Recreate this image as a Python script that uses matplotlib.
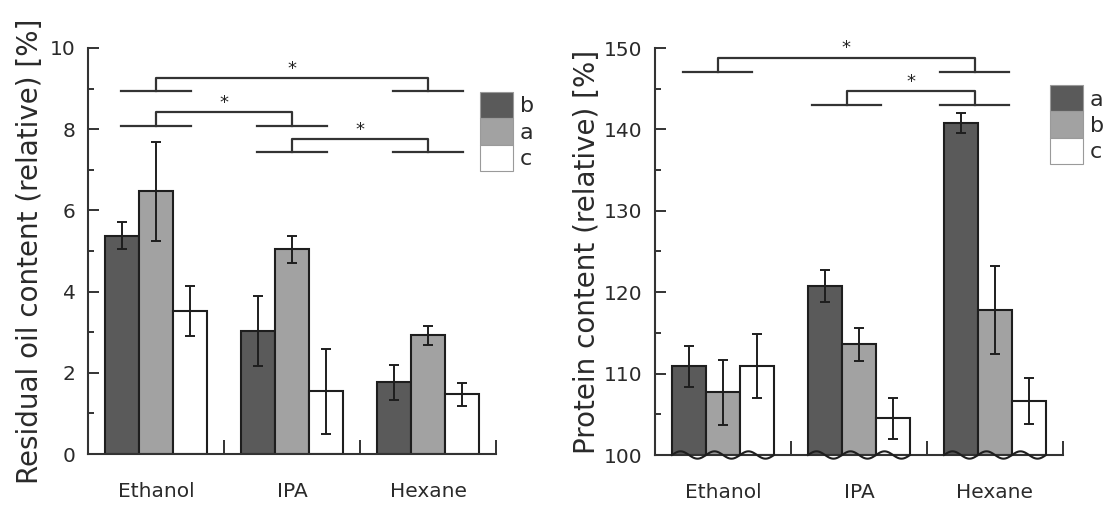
import matplotlib
matplotlib.use('Agg')
import matplotlib.pyplot as plt
import matplotlib.patches as mpatches
import numpy as np

solvents = ['Ethanol', 'IPA', 'Hexane']
bar_colors = ['#5a5a5a', '#a2a2a2', '#ffffff']

# residual oil content, three series (dark / grey / white)
oil_dark = [5.38, 3.03, 1.77]
oil_dark_err = [0.33, 0.86, 0.43]
oil_grey = [6.47, 5.04, 2.92]
oil_grey_err = [1.22, 0.34, 0.23]
oil_white = [3.52, 1.54, 1.47]
oil_white_err = [0.62, 1.04, 0.28]
oil_legend = ['b', 'a', 'c']

# protein content
prot_dark = [110.9, 120.8, 140.8]
prot_dark_err = [2.5, 1.95, 1.25]
prot_grey = [107.7, 113.6, 117.8]
prot_grey_err = [4.0, 2.0, 5.45]
prot_white = [110.9, 104.5, 106.6]
prot_white_err = [3.95, 2.5, 2.8]
prot_legend = ['a', 'b', 'c']

# significance brackets: group positions, lower and upper level
oil_sig_x = [(0, 2), (0, 1), (1, 2)]
oil_sig_low = [8.93, 8.09, 7.43]
oil_sig_high = [9.26, 8.43, 7.76]
prot_sig_x = [(-0.04, 1.85), (0.91, 1.85)]
prot_sig_low = [147.1, 143.05]
prot_sig_high = [148.8, 144.7]

EDGE = '#1e1e1e'
AX = '#333333'
width = 0.25


def draw_panel(ax, vals, errs, ylim, yticks, minor, ylabel, sig_x, sig_low, sig_high,
               star_off, wave=False):
    x = np.arange(len(solvents))
    base = ylim[0]
    for i, (v, e, c) in enumerate(zip(vals, errs, bar_colors)):
        pos = x + (i - 1) * width
        ax.bar(pos, np.array(v) - base, width, bottom=base, color=c, edgecolor=EDGE,
               linewidth=1.5, zorder=2)
        ax.errorbar(pos, v, yerr=e, fmt='none', ecolor=EDGE, elinewidth=1.4,
                    capsize=3.3, capthick=1.4, zorder=3)
        if wave:
            t = np.linspace(0, 1, 40)
            amp = (ylim[1] - ylim[0]) * 0.009
            for p in pos:
                ax.plot(p - width / 2 + t * width, base + amp * np.sin(2 * np.pi * t),
                        color=EDGE, lw=1.5, clip_on=False, zorder=4)

    hw = 0.255
    for (xa, xb), lo, hi in zip(sig_x, sig_low, sig_high):
        ax.plot([xa - hw, xa + hw], [lo, lo], color=AX, lw=1.6)
        ax.plot([xb - hw, xb + hw], [lo, lo], color=AX, lw=1.6)
        ax.plot([xa, xa, xb, xb], [lo, hi, hi, lo], color=AX, lw=1.6)
        ax.text((xa + xb) / 2, hi + star_off, '*', ha='center', va='center', fontsize=13,
                color='#222222')

    ax.set_xlim(-0.5, 2.5)
    ax.set_ylim(*ylim)
    ax.set_yticks(yticks)
    ax.set_yticks(minor, minor=True)
    ax.set_xticks([-0.5, 0.5, 1.5, 2.5])
    ax.set_xticklabels([])
    ax.set_xticks(x, minor=True)
    ax.set_xticklabels(solvents, minor=True)
    ax.tick_params(axis='y', which='major', direction='in', length=8, width=1.4, color=AX,
                   labelsize=14.5, pad=9, labelcolor='#2a2a2a')
    ax.tick_params(axis='y', which='minor', direction='in', length=4.5, width=1.4, color=AX)
    ax.tick_params(axis='x', which='major', direction='in', length=10, width=1.4, color=AX)
    ax.tick_params(axis='x', which='minor', length=0, labelsize=14.5, pad=20,
                   labelcolor='#2a2a2a')
    for s in ['top', 'right']:
        ax.spines[s].set_visible(False)
    for s in ['left', 'bottom']:
        ax.spines[s].set_color(AX)
        ax.spines[s].set_linewidth(1.5)
    ax.set_ylabel(ylabel, fontsize=20, color='#2a2a2a')

    handles = [mpatches.Patch(facecolor=c, edgecolor='#9a9a9a', linewidth=0.8)
               for c in bar_colors]
    return handles


fig = plt.figure(figsize=(11.06, 5.08), dpi=100)
ax1 = fig.add_axes([88 / 1106, 54 / 508, 408 / 1106, 406 / 508])
ax2 = fig.add_axes([655 / 1106, 53 / 508, 408 / 1106, 407 / 508])

h1 = draw_panel(ax1, [oil_dark, oil_grey, oil_white],
                [oil_dark_err, oil_grey_err, oil_white_err],
                (0, 10), [0, 2, 4, 6, 8, 10], [1, 3, 5, 7, 9],
                'Residual oil content (relative) [%]',
                oil_sig_x, oil_sig_low, oil_sig_high, 0.22)
h2 = draw_panel(ax2, [prot_dark, prot_grey, prot_white],
                [prot_dark_err, prot_grey_err, prot_white_err],
                (100, 150), [100, 110, 120, 130, 140, 150], [105, 115, 125, 135, 145],
                'Protein content (relative) [%]',
                prot_sig_x, prot_sig_low, prot_sig_high, 1.15, wave=True)

ax1.yaxis.set_label_coords(-0.108, 0.5)
ax2.yaxis.set_label_coords(-0.132, 0.5)

ax1.legend(h1, oil_legend, loc='upper left', bbox_to_anchor=(0.961, 0.892), frameon=False,
           fontsize=16, handlelength=1.5, handleheight=1.45, handletextpad=0.3,
           labelspacing=0, borderpad=0, borderaxespad=0, labelcolor='#2a2a2a')
ax2.legend(h2, prot_legend, loc='upper left', bbox_to_anchor=(0.968, 0.909), frameon=False,
           fontsize=16, handlelength=1.5, handleheight=1.45, handletextpad=0.3,
           labelspacing=0, borderpad=0, borderaxespad=0, labelcolor='#2a2a2a')

fig.savefig('out.png', dpi=100)
